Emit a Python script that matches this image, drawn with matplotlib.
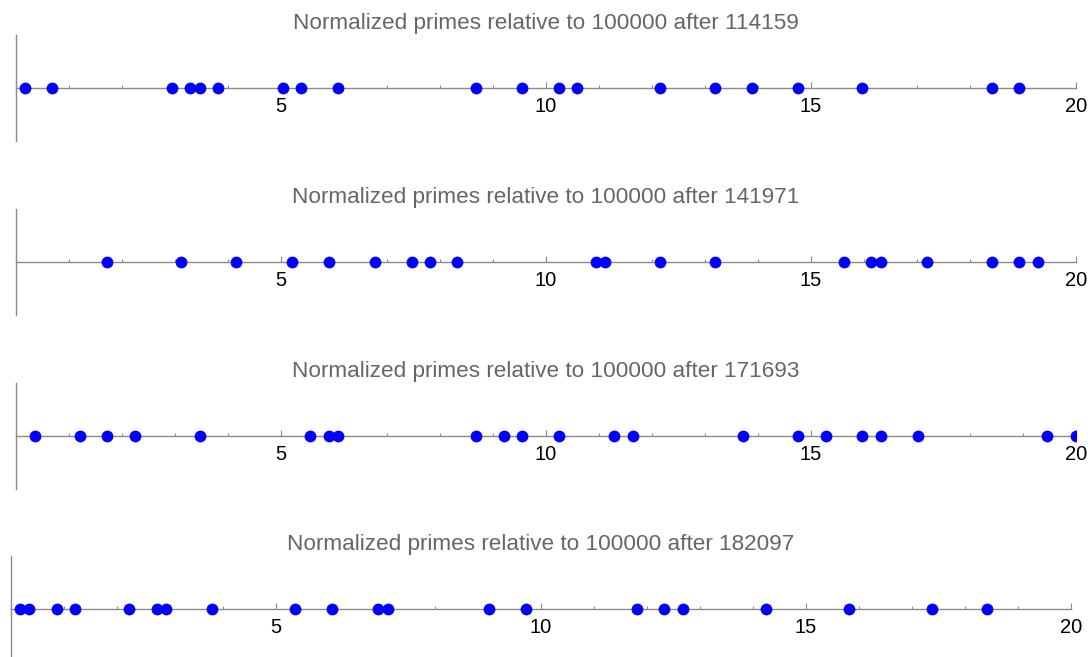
import matplotlib
matplotlib.use("Agg")
import matplotlib.pyplot as plt
from matplotlib.ticker import MultipleLocator

starts = [114159, 141971, 171693, 182097]

p1 = [0.17, 0.67, 2.94, 3.28, 3.47, 3.81, 5.03, 5.38, 6.08, 8.68, 9.55, 10.25,
      10.59, 12.16, 13.19, 13.89, 14.75, 15.97, 18.42, 18.93]
p2 = [1.72, 3.11, 4.16, 5.21, 5.90, 6.77, 7.47, 7.81, 8.33, 10.94, 11.12, 12.16,
      13.19, 15.63, 16.14, 16.32, 17.19, 18.42, 18.93, 19.28]
p3 = [0.35, 1.21, 1.72, 2.25, 3.47, 5.55, 5.90, 6.08, 8.68, 9.20, 9.55, 10.25,
      11.29, 11.64, 13.72, 14.75, 15.28, 15.97, 16.32, 17.02, 19.45, 20.0]
p4 = [0.17, 0.35, 0.87, 1.22, 2.24, 2.76, 2.93, 3.80, 5.36, 6.06, 6.93, 7.11,
      9.03, 9.73, 11.81, 12.33, 12.68, 14.25, 15.81, 17.37, 18.42]
series = [p1, p2, p3, p4]

W, H = 1088, 657
fig = plt.figure(figsize=(W / 100, H / 100), dpi=100)

# pixel layout: (left, right, axis-line y)
layout = [(16, 1076, 88), (16, 1076, 262), (16, 1076, 436), (10.5, 1071, 609)]
half = 53

axcol = "#8a8a8a"
for (xl, xr, yc), pts, st in zip(layout, series, starts):
    ax = fig.add_axes([xl / W, 1 - (yc + half) / H, (xr - xl) / W, 2 * half / H])
    ax.set_xlim(0, 20)
    ax.set_ylim(-1, 1)
    ax.patch.set_alpha(0)
    for s in ["top", "right"]:
        ax.spines[s].set_visible(False)
    ax.spines["bottom"].set_position(("data", 0))
    ax.spines["left"].set_position(("data", 0))
    for s in ["bottom", "left"]:
        ax.spines[s].set_color(axcol)
        ax.spines[s].set_linewidth(1.0)
    ax.set_yticks([])
    ax.xaxis.set_major_locator(MultipleLocator(5))
    ax.xaxis.set_minor_locator(MultipleLocator(1))
    ax.set_xticks([5, 10, 15, 20])
    ax.tick_params(axis="x", which="major", direction="in", length=4, width=0.8,
                   color=axcol, pad=6.5, labelsize=14.5, labelcolor="black")
    ax.tick_params(axis="x", which="minor", direction="in", length=2.5, width=0.8,
                   color=axcol)
    for lab in ax.get_xticklabels():
        lab.set_fontfamily("Liberation Sans")
    ax.plot(pts, [0] * len(pts), "o", color="#0000ff", markersize=8.5,
            markeredgewidth=0, zorder=5, clip_on=True)
    ax.set_title(f"Normalized primes relative to 100000 after {st}",
                 fontfamily="Liberation Sans", fontsize=16.2, color="#666666", pad=4)

fig.savefig("out.png", dpi=100)
